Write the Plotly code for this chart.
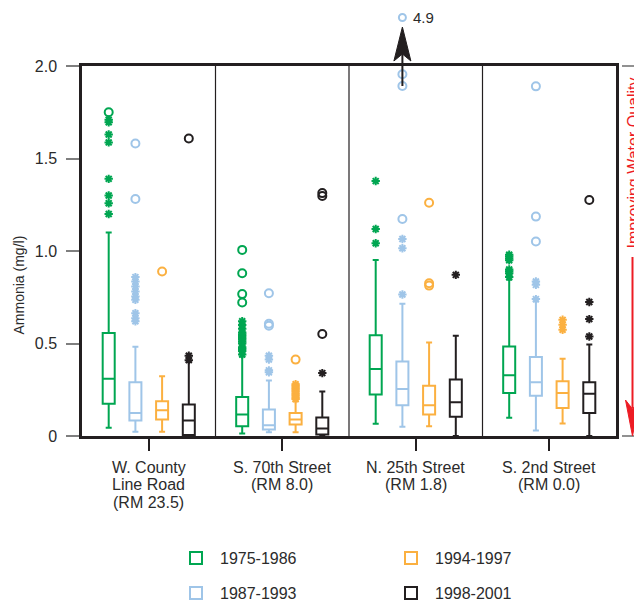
import plotly.graph_objects as go

sites = ["W. County<br>Line Road<br>(RM 23.5)", "S. 70th Street<br>(RM 8.0)",
         "N. 25th Street<br>(RM 1.8)", "S. 2nd Street<br>(RM 0.0)"]
periods = ["1975-1986", "1987-1993", "1994-1997", "1998-2001"]
colors = ["#00a651", "#9fc5e8", "#fbb040", "#231f20"]
offsets = [-0.3, -0.1, 0.1, 0.3]   # position of each period inside a site panel

# box statistics per period (one value per site), mg/l
low_7586 = [0.044, 0.013, 0.066, 0.098]
q1_7586 = [0.174, 0.053, 0.224, 0.233]
med_7586 = [0.31, 0.116, 0.362, 0.328]
q3_7586 = [0.557, 0.211, 0.544, 0.484]
high_7586 = [1.10, 0.43, 0.952, 0.844]
stars_7586 = [[1.20, 1.258, 1.30, 1.39, 1.587, 1.63, 1.696, 1.71],
              [0.44, 0.46, 0.47, 0.48, 0.50, 0.51, 0.52, 0.53, 0.54, 0.55, 0.56, 0.58, 0.60, 0.62],
              [1.042, 1.119, 1.378],
              [0.86, 0.88, 0.89, 0.90, 0.95, 0.96, 0.97, 0.98]]
circles_7586 = [[1.75], [0.722, 0.767, 0.88, 1.006], [], []]

low_8793 = [0.023, 0.02, 0.05, 0.03]
q1_8793 = [0.084, 0.035, 0.166, 0.218]
med_8793 = [0.125, 0.058, 0.254, 0.29]
q3_8793 = [0.29, 0.143, 0.403, 0.427]
high_8793 = [0.483, 0.30, 0.715, 0.727]
stars_8793 = [[0.62, 0.637, 0.664, 0.736, 0.754, 0.781, 0.808, 0.835, 0.859],
              [0.344, 0.355, 0.413, 0.434],
              [0.765, 1.015, 1.065],
              [0.74, 0.817, 0.835]]
circles_8793 = [[1.281, 1.581], [0.596, 0.607, 0.772], [1.173, 1.892, 1.955], [1.051, 1.186, 1.89]]

low_9497 = [0.023, 0.02, 0.053, 0.067]
q1_9497 = [0.089, 0.062, 0.116, 0.152]
med_9497 = [0.139, 0.089, 0.166, 0.233]
q3_9497 = [0.188, 0.125, 0.272, 0.296]
high_9497 = [0.323, 0.188, 0.506, 0.418]
stars_9497 = [[], [0.20, 0.21, 0.22, 0.23, 0.24, 0.25, 0.26, 0.27, 0.28], [], [0.574, 0.601, 0.628]]
circles_9497 = [[0.889], [0.413], [0.813, 0.826, 1.261], []]

low_9801 = [0.0, 0.0, 0.0, 0.0]
q1_9801 = [0.005, 0.008, 0.104, 0.125]
med_9801 = [0.084, 0.04, 0.182, 0.228]
q3_9801 = [0.17, 0.10, 0.305, 0.29]
high_9801 = [0.40, 0.24, 0.542, 0.494]
stars_9801 = [[0.41, 0.434], [0.34], [0.871], [0.538, 0.632, 0.724]]
circles_9801 = [[1.608], [0.551, 1.297, 1.313], [], [1.276]]

# off-scale value (N. 25th Street, 1987-1993), drawn above the frame
offscale_value = 4.9
offscale_site = 2
offscale_period = 1

stats = [
    (low_7586, q1_7586, med_7586, q3_7586, high_7586, stars_7586, circles_7586),
    (low_8793, q1_8793, med_8793, q3_8793, high_8793, stars_8793, circles_8793),
    (low_9497, q1_9497, med_9497, q3_9497, high_9497, stars_9497, circles_9497),
    (low_9801, q1_9801, med_9801, q3_9801, high_9801, stars_9801, circles_9801),
]

FONT = "Liberation Sans, Arial, sans-serif"
TXT = "#2b2b2b"

fig = go.Figure()
legend_names = ["legend", "legend2", "legend3", "legend4"]

for p, (lo, q1, med, q3, hi, stars, circles) in enumerate(stats):
    xs = [s + 0.5 + offsets[p] for s in range(len(sites))]
    fig.add_trace(go.Box(
        name=periods[p], x=xs, q1=q1, median=med, q3=q3,
        lowerfence=lo, upperfence=hi, width=0.09, whiskerwidth=0.5,
        boxpoints=False, line=dict(color=colors[p], width=2),
        fillcolor="white", legend=legend_names[p], hoverinfo="skip",
    ))
    sx, sy, cx, cy = [], [], [], []
    for s in range(len(sites)):
        sx += [xs[s]] * len(stars[s])
        sy += stars[s]
        cx += [xs[s]] * len(circles[s])
        cy += circles[s]
    fig.add_trace(go.Scatter(
        x=sx, y=sy, mode="markers", showlegend=False, hoverinfo="skip",
        marker=dict(symbol="asterisk-open", size=7, color=colors[p],
                    line=dict(color=colors[p], width=2))))
    fig.add_trace(go.Scatter(
        x=cx, y=cy, mode="markers", showlegend=False, hoverinfo="skip",
        marker=dict(symbol="circle-open", size=8, color=colors[p],
                    line=dict(color=colors[p], width=2))))


# page pixels of the reference -> paper coords (page has an 8px body margin)
def px_x(p):
    return (p - 82) / 534


def px_y(p):
    return (436 - p) / 370


ox = (offscale_site + 0.5 + offsets[offscale_period]) / 4   # paper x of that box

shapes = []
for s in range(1, len(sites)):
    shapes.append(dict(type="line", xref="x", yref="paper", x0=s, x1=s, y0=0, y1=1,
                       line=dict(color="#231f20", width=1.2)))
# gray marks right of frame
for yy in (0, 1):
    shapes.append(dict(type="line", xref="paper", yref="paper", x0=px_x(622), x1=px_x(642),
                       y0=yy, y1=yy, line=dict(color="#6d6d6d", width=1.5)))
# red arrow
rx = px_x(632.5)
hw = 7 / 534
shapes.append(dict(type="line", xref="paper", yref="paper", x0=rx, x1=rx,
                   y0=px_y(257), y1=px_y(408), line=dict(color="#ed1c24", width=2)))
shapes.append(dict(type="path", xref="paper", yref="paper",
                   path=f"M {rx},{px_y(436)} L {rx + hw},{px_y(400)} L {rx},{px_y(409)} L {rx - hw},{px_y(400)} Z",
                   fillcolor="#ed1c24", line=dict(color="#ed1c24", width=1)))
# black up arrow pointing at off-scale value
bw = 8.5 / 534
shapes.append(dict(type="line", xref="paper", yref="paper", x0=ox, x1=ox,
                   y0=px_y(86), y1=px_y(52), line=dict(color="#231f20", width=2)))
shapes.append(dict(type="path", xref="paper", yref="paper",
                   path=f"M {ox},{px_y(27)} L {ox + bw},{px_y(61)} L {ox},{px_y(54)} L {ox - bw},{px_y(61)} Z",
                   fillcolor="#231f20", line=dict(color="#231f20", width=1)))
# off-scale circle
shapes.append(dict(type="circle", xref="paper", yref="paper", xsizemode="pixel", ysizemode="pixel",
                   xanchor=ox, yanchor=px_y(17.5), x0=-3.5, x1=3.5, y0=-3.5, y1=3.5,
                   line=dict(color=colors[offscale_period], width=2)))

annotations = []
for s, lab in enumerate(sites):
    for i, line in enumerate(lab.split("<br>")):
        annotations.append(dict(x=s + 0.5, xref="x", y=0, yref="paper", text=line,
                                showarrow=False, xanchor="center", yanchor="middle",
                                yshift=-(31 + i * 17.5),
                                font=dict(family=FONT, size=16, color=TXT)))
annotations.append(dict(x=ox, y=px_y(17.5), xref="paper", yref="paper", xanchor="left",
                        yanchor="middle", xshift=9, text=f"{offscale_value}", showarrow=False,
                        font=dict(family=FONT, size=15, color=TXT)))
annotations.append(dict(x=px_x(18.5), y=px_y(285), xref="paper", yref="paper",
                        xanchor="center", yanchor="middle",
                        text="Ammonia (mg/l)", textangle=-90, showarrow=False,
                        font=dict(family=FONT, size=14, color=TXT)))
annotations.append(dict(x=rx, y=px_y(163), xref="paper", yref="paper",
                        xanchor="center", yanchor="middle",
                        text="Improving Water Quality", textangle=-90, showarrow=False,
                        font=dict(family=FONT, size=16, color="#ed1c24")))

legend_pos = [(196, 558), (196, 593), (411, 558), (411, 593)]
legend_kw = {}
for name, (lx, ly) in zip(legend_names, legend_pos):
    legend_kw[name] = dict(x=px_x(lx - 24), y=px_y(ly), xanchor="left", yanchor="middle",
                           itemwidth=38, bgcolor="rgba(0,0,0,0)",
                           font=dict(family=FONT, size=16, color=TXT))

fig.update_layout(
    width=634, height=596,
    margin=dict(l=74, r=26, t=58, b=168, autoexpand=False),
    paper_bgcolor="white", plot_bgcolor="white",
    showlegend=True, boxmode="overlay",
    xaxis=dict(range=[0, 4], tickvals=[s + 0.5 for s in range(len(sites))],
               showticklabels=False, ticks="outside", ticklen=12, tickwidth=1.5,
               tickcolor="#231f20", showgrid=False, zeroline=False,
               showline=True, linewidth=2.5, linecolor="#231f20", mirror=True),
    yaxis=dict(range=[0, 2], tickvals=[0, 0.5, 1.0, 1.5, 2.0],
               ticktext=["0", "0.5", "1.0", "1.5", "2.0"], ticks="outside",
               ticklen=13, tickwidth=1.5, tickcolor="#7f7f7f", ticklabelstandoff=6,
               tickfont=dict(family=FONT, size=16, color=TXT),
               showgrid=False, zeroline=False,
               showline=True, linewidth=2.5, linecolor="#231f20", mirror=True),
    shapes=shapes, annotations=annotations,
    **legend_kw,
)

fig.write_html("out.html")
